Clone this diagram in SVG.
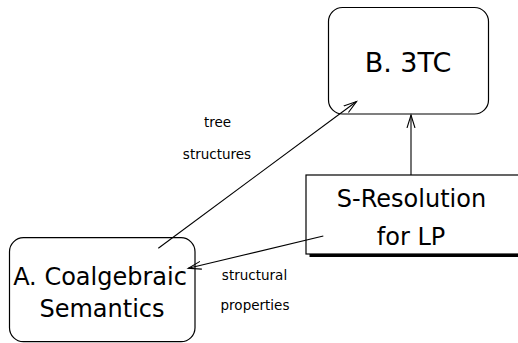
<svg xmlns="http://www.w3.org/2000/svg" width="518" height="343" viewBox="0 0 518 343">
  <style>
    .box { fill: #fff; stroke: #000; stroke-width: 1.2; }
    .big { font-family: "DejaVu Sans", "Liberation Sans", sans-serif; fill: #000; text-anchor: middle; }
    .small { font-family: "DejaVu Sans", "Liberation Sans", sans-serif; font-size: 13.5px; fill: #000; text-anchor: middle; }
    .edge { fill: none; stroke: #000; stroke-width: 1.1; }
  </style>
  <defs>
    <marker id="arrow" markerUnits="userSpaceOnUse" markerWidth="16" markerHeight="12" refX="13" refY="5" orient="auto" viewBox="0 0 16 10">
      <path d="M0,1 L13,5 L0,9" fill="none" stroke="#000" stroke-width="1.1"/>
    </marker>
  </defs>
  <rect width="518" height="343" fill="#fff"/>

  <g id="label-tree">
    <text class="small" x="217.5" y="127">tree</text>
    <text class="small" x="217" y="159">structures</text>
  </g>
  <g id="label-structural">
    <text class="small" x="254.5" y="280">structural</text>
    <text class="small" x="255" y="310">properties</text>
  </g>

  <g id="node-b">
    <rect class="box" x="328.5" y="7.5" width="160" height="106.5" rx="14"/>
    <text class="big" x="408" y="72" font-size="27">B. 3TC</text>
  </g>

  <g id="node-s">
    <rect x="309.5" y="178" width="212" height="79" fill="#000"/>
    <rect class="box" x="306" y="175" width="214" height="79"/>
    <text class="big" x="411.5" y="207" font-size="24">S-Resolution</text>
    <text class="big" x="411" y="245" font-size="24">for LP</text>
  </g>

  <g id="node-a">
    <rect class="box" x="9.5" y="237.7" width="185.5" height="104" rx="14"/>
    <text class="big" x="100" y="285" font-size="24">A. Coalgebraic</text>
    <text class="big" x="102" y="316.7" font-size="24">Semantics</text>
  </g>

  <!-- connectors are drawn over the boxes so their ends show inside them -->
  <g id="edges">
    <line class="edge" x1="158.3" y1="248.3" x2="356.5" y2="101.5" marker-end="url(#arrow)"/>
    <line class="edge" x1="411" y1="175" x2="411" y2="115" marker-end="url(#arrow)"/>
    <line class="edge" x1="323.3" y1="236" x2="188.3" y2="268.3" marker-end="url(#arrow)"/>
  </g>
</svg>
